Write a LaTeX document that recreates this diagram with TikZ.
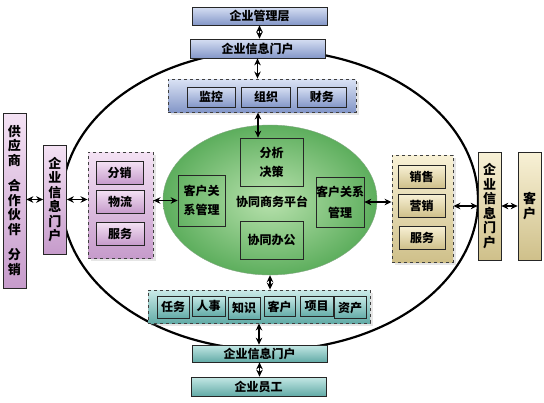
\documentclass[tikz,border=0pt]{standalone}
\usepackage{fontspec}
\setmainfont{Noto Sans CJK SC}
\usetikzlibrary{shapes.geometric,arrows.meta,positioning,shadows}

\definecolor{bluetop}{HTML}{D6DFF3}
\definecolor{bluebot}{HTML}{8497C8}
\definecolor{tealtop}{HTML}{C4E8E5}
\definecolor{tealbot}{HTML}{63ABA7}
\definecolor{purptop}{HTML}{F4E2F4}
\definecolor{purpbot}{HTML}{C69BCB}
\definecolor{goldtop}{HTML}{F8F1D6}
\definecolor{goldbot}{HTML}{CFC08A}
\definecolor{greenin}{HTML}{B9E2AE}
\definecolor{greenout}{HTML}{5DAE5D}

\tikzset{
    box/.style={draw=black!85, line width=0.7pt, inner sep=0pt, align=center,
        font=\bfseries\fontsize{12}{14}\selectfont},
    sz/.style 2 args={minimum width=#1, minimum height=#2},
    bluebox/.style={box, top color=bluetop, bottom color=bluebot},
    tealbox/.style={box, top color=tealtop, bottom color=tealbot},
    purpbox/.style={box, top color=purptop, bottom color=purpbot},
    goldbox/.style={box, top color=goldtop, bottom color=goldbot},
    vert/.style={font=\bfseries\fontsize{13}{14.5}\selectfont},
    link/.style={>={Stealth[length=7pt,width=6.5pt]}, <->, line width=1.4pt},
}
\tikzstyle{group}=[draw=black!75, dashed, line width=0.9pt, inner sep=0pt,
    drop shadow={opacity=0.2, shadow xshift=3pt, shadow yshift=-3pt}]

\begin{document}
\begin{tikzpicture}[x=1pt, y=-1pt]
            \useasboundingbox (0,0) rectangle (544,402);
            \draw [line width=2.2pt] (270,200) ellipse [x radius=208pt, y radius=150pt];

            % top
            \node [bluebox, sz={135pt}{18pt}] (mgr) at (259.5,16) {企业管理层};
            \node [bluebox, sz={135pt}{19pt}] (portaltop) at (257.5,48.5) {企业信息门户};
            \node [group, sz={188pt}{33pt}, top color=bluetop!90, bottom color=bluebot] (grpt) at (262,95.5) {};
            \node [bluebox, sz={48pt}{20pt}] (monitor) at (211,97) {监控};
            \node [bluebox, sz={49pt}{20pt}, right=6pt of monitor] (organize) {组织};
            \node [bluebox, sz={49pt}{20pt}, right=6pt of organize] (finance) {财务};

            % platform
            \node [ellipse, sz={214pt}{150pt}, inner color=greenin, outer color=greenout,
                draw=green!30!black!50, line width=0.4pt] (platform) at (270,200) {};
            \node [box, sz={63pt}{48pt}] (decide) at (271.5,162) {分析\\[5pt]决策};
            \node [box, sz={63pt}{38pt}] (office) at (271.5,240) {协同办公};
            \node [box, sz={47pt}{51pt}] (crml) at (201.5,200.5) {客户关\\[5pt]系管理};
            \node [box, sz={48pt}{50pt}] (crmr) at (340,202) {客户关系\\[7pt]管理};
            \node [font=\bfseries\fontsize{12}{14}\selectfont] (core) at (272,202) {协同商务平台};

            % left
            \node [group, sz={65pt}{106pt}, top color=purptop, bottom color=purpbot] (grpl) at (120.5,205) {};
            \node [purpbox, sz={47pt}{23pt}] (distl) at (119.5,172.5) {分销};
            \node [purpbox, sz={48pt}{23pt}] (logis) at (120,201.5) {物流};
            \node [purpbox, sz={48pt}{23pt}] (servl) at (120,233.5) {服务};
            \node [purpbox, sz={23pt}{109pt}, vert] (portall) at (55,199.5) {企\\业\\信\\息\\门\\户};
            \node [purpbox, sz={23pt}{175pt}, vert] (partners) at (14.5,200.5)
                {供\\应\\商\\[11pt]合\\作\\伙\\伴\\[11pt]分\\销};

            % right
            \node [group, sz={61pt}{107pt}, top color=goldtop, bottom color=goldbot] (grpr) at (422.5,208.5) {};
            \node [goldbox, sz={47pt}{23pt}] (sales) at (421.5,176.5) {销售};
            \node [goldbox, sz={47pt}{23pt}] (market) at (421.5,205.5) {营销};
            \node [goldbox, sz={46pt}{23pt}] (servr) at (422,237.5) {服务};
            \node [goldbox, sz={23pt}{108pt}, vert] (portalr) at (489.5,206) {企\\业\\信\\息\\门\\户};
            \node [goldbox, sz={23pt}{108pt}, vert] (client) at (529.5,206) {客\\户};

            % bottom
            \node [group, sz={222pt}{33pt}, top color=tealtop!90, bottom color=tealbot] (grpb) at (259,306.5) {};
            \node [tealbox, sz={32pt}{22pt}] (task) at (173,307) {任务};
            \node [tealbox, sz={33pt}{20pt}] (staffing) at (208.5,306) {人事};
            \node [tealbox, sz={32pt}{22pt}] (know) at (244,308) {知识};
            \node [tealbox, sz={31pt}{20pt}] (cust) at (279.5,306.5) {客户};
            \node [tealbox, sz={33pt}{20pt}] (project) at (316.5,306.5) {项目};
            \node [tealbox, sz={32pt}{22pt}] (asset) at (350,307.5) {资产};
            \node [tealbox, sz={135pt}{17pt}] (portalb) at (259.5,353.5) {企业信息门户};
            \node [tealbox, sz={135pt}{19pt}] (staff) at (258.5,386.5) {企业员工};

            % links
            \draw [link] (mgr.south) -- (mgr.south |- portaltop.north);
            \draw [link] (portaltop.south) -- (portaltop.south |- grpt.north);
            \draw [link] ([xshift=-4pt]grpt.south) -- ([xshift=-4pt]grpt.south |- decide.north);
            \draw [link] (platform.south) -- (platform.south |- grpb.north);
            \draw [link] (grpb.south) -- (grpb.south |- portalb.north);
            \draw [link] (portalb.south) -- (portalb.south |- staff.north);
            \draw [link] (partners.east |- portall.west) -- (portall.west);
            \draw [link] (portall.east) -- (grpl.west |- portall.east);
            \draw [link] (grpl.east |- crml.west) -- (crml.west);
            \draw [link] (crmr.east) -- (grpr.west |- crmr.east);
            \draw [link] (grpr.east |- portalr.west) -- (portalr.west);
            \draw [link] (portalr.east) -- (client.west);
        \end{tikzpicture}
\end{document}
